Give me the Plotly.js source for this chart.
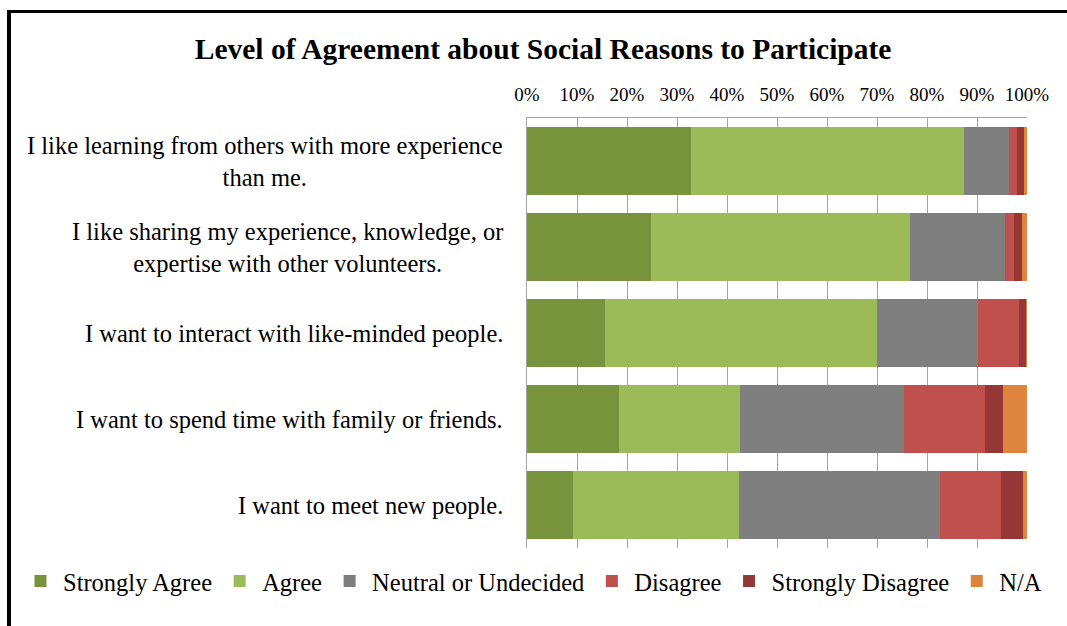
<!DOCTYPE html>
<html>
<head>
<meta charset="utf-8">
<script src="https://cdn.plot.ly/plotly-3.0.1.min.js"></script>
<style>
  html, body { margin: 0; padding: 0; background: #ffffff; overflow: hidden; }
  #chart { width: 1067px; height: 626px; position: absolute; left: 0; top: 0; }
  #frame { position: absolute; left: 7px; top: 10px; width: 1070px; height: 640px;
           border-left: 4px solid #000; border-top: 3px solid #000; pointer-events: none; }
</style>
</head>
<body>
<div id="chart"></div>
<div id="frame"></div>
<script>
// Categories (top to bottom)
const categories = [
  "I like learning from others with more experience<br>than me.",
  "I like sharing my experience, knowledge, or<br>expertise with other volunteers.",
  "I want to interact with like-minded people.",
  "I want to spend time with family or friends.",
  "I want to meet new people."
];
const categoryKeys = ["learn", "share", "interact", "family", "meet"];

// Series values (% of respondents), in category order
const stronglyAgree    = [32.8, 24.7, 15.5, 18.3,  9.1];
const agree            = [54.6, 51.8, 54.4, 24.2, 33.2];
const neutral          = [ 9.0, 19.0, 20.3, 32.8, 40.3];
const disagree         = [ 1.5,  1.8,  8.1, 16.2, 12.1];
const stronglyDisagree = [ 1.4,  1.7,  1.4,  3.7,  4.5];
const notApplicable    = [ 0.7,  1.0,  0.3,  4.8,  0.8];

const seriesNames = ["Strongly Agree", "Agree", "Neutral or Undecided", "Disagree", "Strongly Disagree", "N/A"];
const seriesValues = [stronglyAgree, agree, neutral, disagree, stronglyDisagree, notApplicable];
const seriesColors = ["#77933c", "#9bbb59", "#7f7f7f", "#c0504d", "#953735", "#dd843e"];

const tickVals = [0, 10, 20, 30, 40, 50, 60, 70, 80, 90, 100];
const tickText = ["0%", "10%", "20%", "30%", "40%", "50%", "60%", "70%", "80%", "90%", "100%"];

const serif = "Liberation Serif";

const traces = seriesNames.map((name, i) => ({
  type: "bar",
  orientation: "h",
  name: name,
  y: categoryKeys,
  x: seriesValues[i],
  marker: { color: seriesColors[i], line: { width: 0 } },
  hoverinfo: "x+name"
}));

const annotations = categories.map((c, i) => ({
  text: c,
  xref: "paper", yref: "y",
  x: 0, y: categoryKeys[i],
  xanchor: "right", yanchor: "middle",
  xshift: -22,
  align: "center",
  showarrow: false,
  font: { family: serif, size: 24.5, color: "#000" }
}));

const layout = {
  width: 1067, height: 626,
  margin: { l: 527, r: 40, t: 118, b: 78 },
  paper_bgcolor: "#ffffff",
  plot_bgcolor: "#ffffff",
  barmode: "stack",
  bargap: 0.21,
  title: {
    text: "<b>Level of Agreement about Social Reasons to Participate</b>",
    xref: "container", yref: "container",
    x: 0.509, y: 0.923, xanchor: "center", yanchor: "middle",
    font: { family: serif, size: 29.5, color: "#000" }
  },
  xaxis: {
    side: "top",
    range: [0, 100],
    tickvals: tickVals,
    ticktext: tickText,
    ticks: "",
    ticklabelstandoff: 8,
    showgrid: true,
    gridcolor: "#a6a6a6",
    gridwidth: 1,
    showline: true,
    linecolor: "#a6a6a6",
    linewidth: 1,
    zeroline: false,
    tickfont: { family: serif, size: 19, color: "#000" },
    fixedrange: true
  },
  yaxis: {
    type: "category",
    categoryorder: "array",
    categoryarray: categoryKeys,
    autorange: "reversed",
    showticklabels: false,
    ticks: "",
    showgrid: false,
    showline: true,
    linecolor: "#a6a6a6",
    linewidth: 1,
    zeroline: false,
    fixedrange: true
  },
  showlegend: true,
  legend: {
    orientation: "h",
    x: -1.018, xanchor: "left",
    y: -0.077, yanchor: "middle",
    font: { family: serif, size: 24.5, color: "#000" },
    itemclick: false, itemdoubleclick: false,
    traceorder: "normal",
    itemwidth: 35,
    bgcolor: "rgba(0,0,0,0)"
  },
  annotations: annotations
};

Plotly.newPlot("chart", traces, layout, { displayModeBar: false, staticPlot: true });
</script>
</body>
</html>
